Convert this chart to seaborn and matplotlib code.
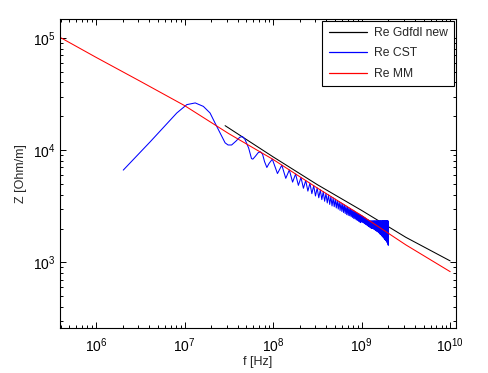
import numpy as np
import pandas as pd
import seaborn as sns
import matplotlib
matplotlib.use('Agg')
import matplotlib.pyplot as plt
from matplotlib.ticker import FixedLocator, LogLocator, FuncFormatter, NullFormatter

# --- data ---
# Re Gdfdl new (black)
gdfdl_f = [2.87e7, 1e8, 3.16e8, 1e9, 3.16e9, 1e10]
gdfdl_z = [1.65e4, 8.7e3, 4.92e3, 2.9e3, 1.67e3, 1.03e3]

# Re MM (red)
mm_f = [3.92e5, 1e6, 3.16e6, 1e7, 3.16e7, 1e8, 3.16e8, 1e9, 3.16e9, 1e10]
mm_z = [1.01e5, 6.7e4, 4.1e4, 2.49e4, 1.40e4, 8.25e3, 4.59e3, 2.61e3, 1.43e3, 826]

# Re CST (blue): smooth start in MHz, then ripple troughs / peaks
cst_start_mhz = [2.03, 4.07, 8.17, 10.6, 13.2, 16.3, 19.4, 22.1, 25.2, 28.7, 31, 34, 38, 42, 45,
                 48, 53, 57, 59, 63, 68, 72, 76, 80, 85, 90, 98]
cst_start_z = [6630, 11800, 21400, 25400, 26300, 24500, 21400, 17400, 14200, 11600, 11100, 11100,
               12000, 13000, 13200, 12500, 10400, 8400, 8300, 8800, 9500, 9650, 9200, 7900, 7000,
               7600, 8300]
trough_mhz = [112, 139, 166, 193, 220, 247, 274, 301, 328, 355, 382, 409, 436, 463, 490, 517, 544,
              571, 598, 625, 652, 679, 706, 733, 760, 787, 814, 841, 868, 895, 922, 949, 976, 1003,
              1030, 1057, 1084, 1111, 1138, 1165, 1192, 1219, 1246, 1273, 1300, 1327, 1354, 1381,
              1408, 1435, 1462, 1489, 1516, 1543, 1570, 1597, 1624, 1651, 1678, 1705, 1732, 1759,
              1786, 1813, 1840, 1867, 1894, 1921, 1948, 1975]
trough_z = [6180, 5600, 5180, 4850, 4570, 4310, 4090, 3900, 3760, 3620, 3500, 3380, 3280, 3180,
            3130, 3050, 2980, 2900, 2840, 2780, 2720, 2660, 2620, 2600, 2550, 2510, 2460, 2440,
            2390, 2360, 2320, 2290, 2260, 2300, 2270, 2240, 2210, 2180, 2150, 2120, 2100, 2070,
            2050, 2020, 2000, 2010, 1990, 1970, 1950, 1930, 1910, 1890, 1880, 1850, 1830, 1800,
            1780, 1760, 1730, 1710, 1690, 1660, 1640, 1610, 1590, 1570, 1550, 1520, 1500, 1450]
peak_mhz = [125.5, 152.5, 179.5, 206.5, 233.5, 260.5, 287.5, 314.5, 341.5, 368.5, 395.5, 422.5,
            449.5, 476.5, 503.5, 530.5, 557.5, 584.5, 611.5, 638.5, 665.5, 692.5, 719.5, 746.5,
            773.5, 800.5, 827.5, 854.5, 881.5, 908.5, 935.5, 962.5, 989.5, 1016.5, 1043.5, 1070.5,
            1097.5, 1124.5, 1151.5, 1178.5, 1205.5, 1232.5, 1259.5, 1286.5, 1313.5, 1340.5, 1367.5,
            1394.5, 1421.5, 1448.5, 1475.5, 1502.5, 1529.5, 1556.5, 1583.5, 1610.5, 1637.5, 1664.5,
            1691.5, 1718.5, 1745.5, 1772.5, 1799.5, 1826.5, 1853.5, 1880.5, 1907.5, 1934.5, 1961.5,
            1988.5]
peak_z = [7340, 6650, 6120, 5700, 5360, 5070, 4820, 4600, 4420, 4260, 4110, 3980, 3860, 3750,
          3650, 3560, 3470, 3390, 3320, 3250, 3180, 3120, 3060, 3010, 2950, 2910, 2860, 2810,
          2770, 2730, 2690, 2650, 2620, 2590, 2550, 2520, 2490, 2450, 2420, 2400, 2370, 2340,
          2340, 2340, 2340, 2340, 2340, 2340, 2340, 2340, 2340, 2340, 2340, 2340, 2340, 2340,
          2340, 2340, 2340, 2340, 2340, 2340, 2340, 2340, 2340, 2340, 2340, 2340, 2340, 2340]
cst_end_mhz = [2000]
cst_end_z = [1410]

labels = ['Re Gdfdl new', 'Re CST', 'Re MM']
colors = ['black', 'blue', 'red']

# build the blue series: start, then trough/peak alternating, then end
rip_f, rip_z = [], []
for tf, tz, pf, pz in zip(trough_mhz, trough_z, peak_mhz, peak_z):
    rip_f += [tf, pf]
    rip_z += [tz, pz]
cst_f = np.array(cst_start_mhz + rip_f + cst_end_mhz) * 1e6
cst_z = cst_start_z + rip_z + cst_end_z

df = pd.concat([
    pd.DataFrame({'f': gdfdl_f, 'Z': gdfdl_z, 'curve': labels[0]}),
    pd.DataFrame({'f': cst_f, 'Z': cst_z, 'curve': labels[1]}),
    pd.DataFrame({'f': mm_f, 'Z': mm_z, 'curve': labels[2]}),
], ignore_index=True)

sns.set_style('ticks')
plt.rcParams['font.family'] = ['Liberation Sans', 'DejaVu Sans']
plt.rcParams['mathtext.fontset'] = 'custom'
plt.rcParams['mathtext.rm'] = 'Liberation Sans'
plt.rcParams['mathtext.it'] = 'Liberation Sans'

fig = plt.figure(figsize=(4.88, 3.73), dpi=100)
ax = fig.add_axes([0.123, 0.1206, 0.8105, 0.8284])

sns.lineplot(data=df, x='f', y='Z', hue='curve', hue_order=labels, palette=colors,
             sort=False, estimator=None, units='curve', linewidth=0.75, ax=ax)

ax.set_xscale('log')
ax.set_yscale('log')
ax.set_xlim(3.92e5, 1.15e10)
ax.set_ylim(260, 1.47e5)

sup = FuncFormatter(lambda v, p: r'$10^{%d}$' % int(round(np.log10(v))))
ax.xaxis.set_major_locator(FixedLocator([1e6, 1e7, 1e8, 1e9, 1e10]))
ax.yaxis.set_major_locator(FixedLocator([1e3, 1e4, 1e5]))
ax.xaxis.set_major_formatter(sup)
ax.yaxis.set_major_formatter(sup)
for a in [ax.xaxis, ax.yaxis]:
    a.set_minor_locator(LogLocator(base=10, subs=np.arange(2, 10), numticks=20))
    a.set_minor_formatter(NullFormatter())

ax.tick_params(which='both', direction='in', top=True, right=True, width=0.7, colors='black',
               labelsize=10)
ax.tick_params(which='major', length=4)
ax.tick_params(which='minor', length=2.2)
ax.tick_params(axis='x', which='major', pad=6)
for s in ax.spines.values():
    s.set_linewidth(0.8)
    s.set_color('black')

ax.set_xlabel('f [Hz]', fontsize=9, labelpad=1)
ax.set_ylabel('Z [Ohm/m]', fontsize=9, labelpad=4)

hand, labl = ax.get_legend_handles_labels()
for h in hand:
    h.set_linewidth(0.9)
leg = ax.legend(hand, labl, loc='upper right', fancybox=False, framealpha=1, edgecolor='black',
                fontsize=8.7, handlelength=3.2, handletextpad=0.55, labelspacing=0.7,
                borderaxespad=0.15, borderpad=0.5)
leg.get_frame().set_linewidth(0.8)

fig.savefig('out.png', dpi=100)
